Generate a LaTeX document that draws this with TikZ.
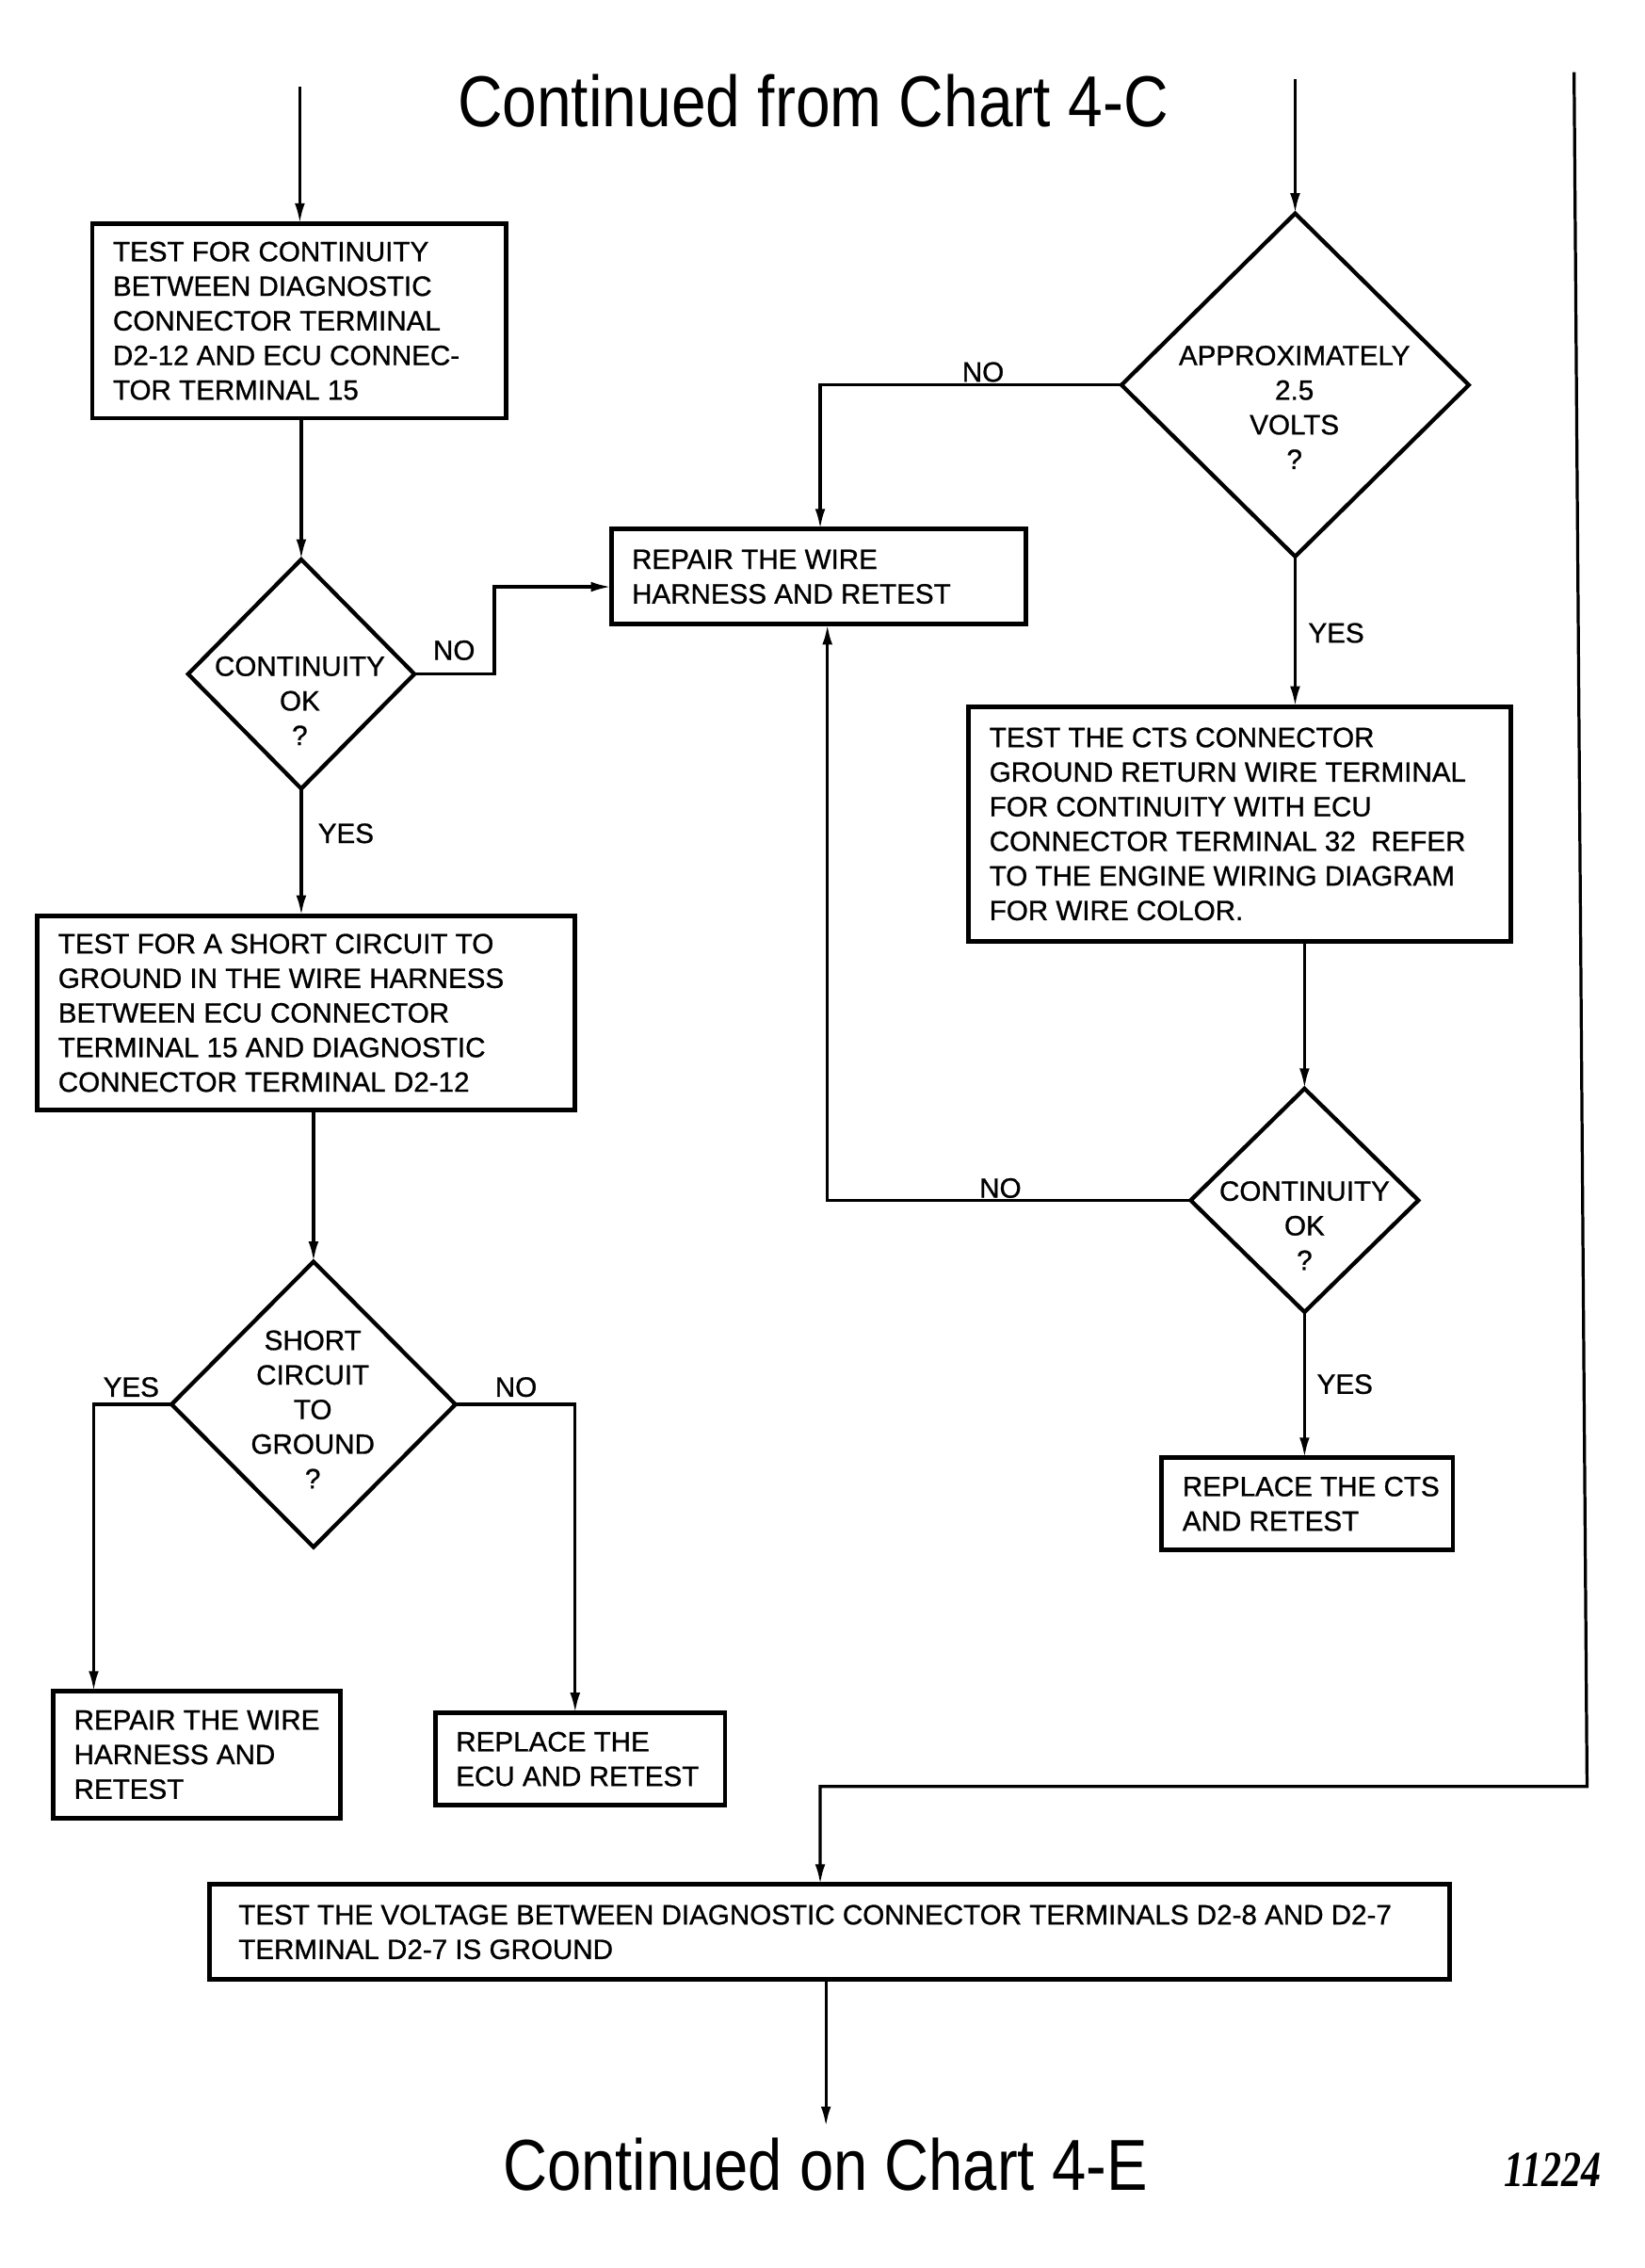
\documentclass[tikz,border=0pt]{standalone}
\usepackage{fontspec}
\setmainfont{Liberation Sans}
\newfontfamily\numfont{Liberation Serif}
\newfontfamily\bxfam[FakeBold=0.9]{Liberation Sans}
\usetikzlibrary{arrows.meta,shapes.geometric}
\newcommand\bxfont{\bxfam\fontsize{11}{13.66}\selectfont}
\newcommand\ttlfont{\fontsize{28.5}{34}\selectfont}
\begin{document}
\begin{tikzpicture}[x=0.02cm,y=-0.02cm,
  box/.style={draw, line width=1.8pt, rectangle, inner sep=0pt, outer sep=0pt},
  dia/.style={draw, line width=1.6pt, diamond, inner sep=0pt, outer sep=0pt},
  txt/.style={align=left, inner sep=0pt, font=\bxfont, anchor=west},
  ctxt/.style={align=center, inner sep=0pt, font=\bxfont},
  lbl/.style={inner sep=0pt, font=\bxfont},
  arr/.style={line width=1.2pt, -{Latex[length=0.28cm,width=0.14cm]}},
  ln/.style={line width=1.2pt}]
\useasboundingbox[fill=white] (0,0) rectangle (1141,1573);

% titles
\node[inner sep=0pt, font=\ttlfont] (top) at (564,70) {\scalebox{0.86}[1]{Continued from Chart 4-C}};
\node[inner sep=0pt, font=\ttlfont] (bot) at (572.5,1501) {\scalebox{0.85}[1]{Continued on Chart 4-E}};
\node[inner sep=0pt, font=\numfont\bfseries\itshape\fontsize{20}{24}\selectfont] (num) at (1077,1505) {\scalebox{0.78}[1]{11224}};

% boxes
\node[box, minimum width=5.74cm, minimum height=2.70cm] (b1) at (207.5,222.5) {};
\node[txt] (t1) at ([xshift=0.28cm]b1.west) {TEST FOR CONTINUITY\\BETWEEN DIAGNOSTIC\\CONNECTOR TERMINAL\\D2-12 AND ECU CONNEC-\\TOR TERMINAL 15};

\node[box, minimum width=5.76cm, minimum height=1.32cm] (b2) at (568,400) {};
\node[txt] (t2) at ([xshift=0.28cm]b2.west) {REPAIR THE WIRE\\HARNESS AND RETEST};

\node[box, minimum width=7.46cm, minimum height=2.70cm] (b3) at (212.5,702.5) {};
\node[txt] (t3) at ([xshift=0.28cm]b3.west) {TEST FOR A SHORT CIRCUIT TO\\GROUND IN THE WIRE HARNESS\\BETWEEN ECU CONNECTOR\\TERMINAL 15 AND DIAGNOSTIC\\CONNECTOR TERMINAL D2-12};

\node[box, minimum width=3.98cm, minimum height=1.76cm] (b4) at (136.5,1217) {};
\node[txt] (t4) at ([xshift=0.28cm]b4.west) {REPAIR THE WIRE\\HARNESS AND\\RETEST};

\node[box, minimum width=4.02cm, minimum height=1.28cm] (b5) at (402.5,1220) {};
\node[txt] (t5) at ([xshift=0.28cm]b5.west) {REPLACE THE\\ECU AND RETEST};

\node[box, minimum width=7.52cm, minimum height=3.26cm] (b6) at (860,571.5) {};
\node[txt] (t6) at ([xshift=0.28cm]b6.west) {TEST THE CTS CONNECTOR\\GROUND RETURN WIRE TERMINAL\\FOR CONTINUITY WITH ECU\\CONNECTOR TERMINAL 32~~REFER\\TO THE ENGINE WIRING DIAGRAM\\FOR WIRE COLOR.};

\node[box, minimum width=4.04cm, minimum height=1.28cm] (b7) at (907,1043) {};
\node[txt] (t7) at ([xshift=0.28cm]b7.west) {REPLACE THE CTS\\AND RETEST};

\node[box, minimum width=17.22cm, minimum height=1.32cm] (b8) at (575.5,1340) {};
\node[txt] (t8) at ([xshift=0.40cm]b8.west) {TEST THE VOLTAGE BETWEEN DIAGNOSTIC CONNECTOR TERMINALS D2-8 AND D2-7\\TERMINAL D2-7 IS GROUND};

% diamonds
\node[dia, minimum width=3.14cm, minimum height=3.18cm] (d1) at (209,467.5) {};
\node[ctxt] (dt1) at (208,486) {CONTINUITY\\OK\\?};
\node[dia, minimum width=4.82cm, minimum height=4.76cm] (d2) at (898.5,267) {};
\node[ctxt] (dt2) at (898,282.5) {APPROXIMATELY\\2.5\\VOLTS\\?};
\node[dia, minimum width=3.94cm, minimum height=3.96cm] (d3) at (217.5,974) {};
\node[ctxt] (dt3) at (217,977.5) {SHORT\\CIRCUIT\\TO\\GROUND\\?};
\node[dia, minimum width=3.16cm, minimum height=3.10cm] (d4) at (905,832.5) {};
\node[ctxt] (dt4) at (905,850) {CONTINUITY\\OK\\?};

% free ends
\coordinate (ctl) at (208,60);
\coordinate (ctr) at (898.5,55);
\coordinate (rtop) at (1092,50);
\coordinate (cbot) at (573,1475);

% connectors
\draw[arr] (ctl) -- (b1.north -| ctl);
\draw[arr] (b1.south -| d1.north) -- (d1.north);
\draw[arr] (d1.east) -| (343,407) -- (b2.west |- 0,407);
\draw[arr] (d1.south) -- (b3.north -| d1.south);
\draw[arr] (b3.south -| d3.north) -- (d3.north);
\draw[arr] (d3.west) -| (b4.north -| 65,0);
\draw[arr] (d3.east) -| (b5.north -| 399,0);
\draw[arr] (ctr) -- (d2.north);
\draw[arr] (d2.west) -| (b2.north -| 569,0);
\draw[arr] (d2.south) -- (b6.north -| d2.south);
\draw[arr] (b6.south -| d4.north) -- (d4.north);
\draw[arr] (d4.west) -| (b2.south -| 574,0);
\draw[arr] (d4.south) -- (b7.north -| d4.south);
\draw[arr] (rtop) -- (1101,1239) -| (b8.north -| 569,0);
\draw[arr] (b8.south -| cbot) -- (cbot);

% labels
\node[lbl] (l1) at (315,451) {NO};
\node[lbl] (l2) at (240,578) {YES};
\node[lbl] (l3) at (91,962) {YES};
\node[lbl] (l4) at (358,962) {NO};
\node[lbl] (l5) at (682,258) {NO};
\node[lbl] (l6) at (927,439) {YES};
\node[lbl] (l7) at (694,824) {NO};
\node[lbl] (l8) at (933,960) {YES};
\end{tikzpicture}
\end{document}
